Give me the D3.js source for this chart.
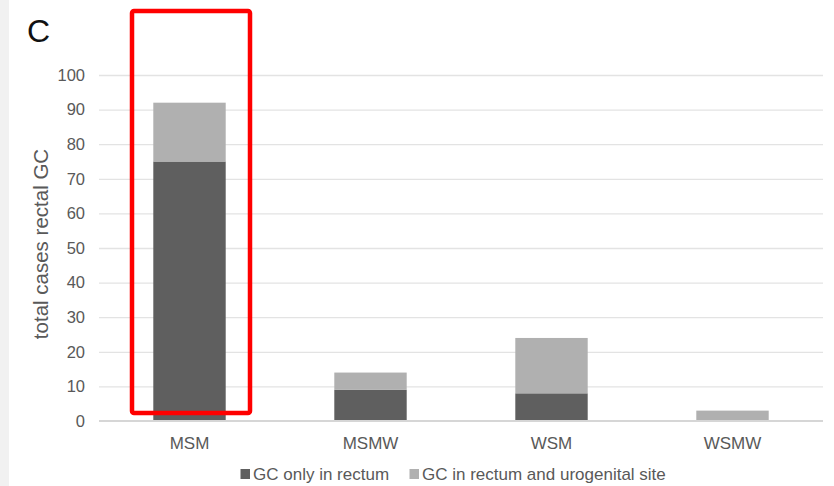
<!DOCTYPE html>
<html><head><meta charset="utf-8">
<script src="https://cdn.jsdelivr.net/npm/d3@7"></script>
<style>body{margin:0;background:#fff}svg{display:block}</style>
</head><body>
<svg id="c" width="834" height="486"></svg>
<script>
const categories = ["MSM", "MSMW", "WSM", "WSMW"];
const onlyRectum = [75, 9, 8, 0];
const rectumAndUrogenital = [17, 5, 16, 3];
const seriesNames = ["GC only in rectum", "GC in rectum and urogenital site"];
const seriesColors = ["#5f5f5f", "#b0b0b0"];
const yTicks = [0, 10, 20, 30, 40, 50, 60, 70, 80, 90, 100];

const svg = d3.select("#c");
const font = "'Liberation Sans', Arial, Helvetica, sans-serif";
const mLeft = 99, mRight = 823, mTop = 75, mBottom = 421;

svg.append("rect").attr("x", 0).attr("y", 0).attr("width", 9).attr("height", 486).attr("fill", "#f1f1f1");

const x = d3.scaleBand().domain(categories).range([mLeft, mRight]).paddingInner(0.6).paddingOuter(0.3);
const y = d3.scaleLinear().domain([0, 100]).range([mBottom, mTop]);

// gridlines
const grid = svg.append("g").attr("transform", `translate(${mLeft},0)`)
  .call(d3.axisLeft(y).tickValues(yTicks.slice(1)).tickSize(-(mRight - mLeft)).tickFormat(""));
grid.select(".domain").remove();
grid.selectAll("line").attr("stroke", "#e3e3e3").attr("stroke-width", 1.3);

// y tick labels
const ya = svg.append("g").attr("transform", `translate(${mLeft},0)`)
  .call(d3.axisLeft(y).tickValues(yTicks).tickSize(0).tickPadding(14));
ya.select(".domain").remove();
ya.selectAll("text").attr("font-family", font).attr("font-size", 16.5).attr("fill", "#595959");

// stacked bars
const rows = categories.map((c, i) => ({cat: c, a: onlyRectum[i], b: rectumAndUrogenital[i]}));
const stack = d3.stack().keys(["a", "b"])(rows);
svg.append("g").selectAll("g").data(stack).join("g")
  .attr("fill", (d, i) => seriesColors[i])
  .selectAll("rect").data(d => d).join("rect")
  .attr("x", d => x(d.data.cat))
  .attr("width", x.bandwidth())
  .attr("y", d => y(d[1]))
  .attr("height", d => y(d[0]) - y(d[1]));

// x axis
const xa = svg.append("g").attr("transform", `translate(0,${mBottom})`)
  .call(d3.axisBottom(x).tickSize(0).tickPadding(16));
xa.select(".domain").attr("stroke", "#d6d6d6").attr("stroke-width", 2).attr("d", `M${mLeft},0H${mRight}`);
xa.selectAll("text").attr("font-family", font).attr("font-size", 17).attr("fill", "#595959");

// y label
svg.append("text").attr("transform", "translate(48,244) rotate(-90)")
  .attr("text-anchor", "middle").attr("font-family", font).attr("font-size", 20.5).attr("fill", "#595959")
  .text("total cases rectal GC");

// panel letter
svg.append("text").attr("x", 27).attr("y", 42).attr("font-family", font).attr("font-size", 32).attr("fill", "#111").text("C");

// legend
const legX = [240, 409];
const lg = svg.append("g").selectAll("g").data(seriesNames).join("g")
  .attr("transform", (d, i) => `translate(${legX[i]},0)`);
lg.append("rect").attr("x", 0.5).attr("y", 469).attr("width", 9.5).attr("height", 10).attr("fill", (d, i) => seriesColors[i]);
lg.append("text").attr("x", 13).attr("y", 480).attr("font-family", font).attr("font-size", 17).attr("fill", "#595959").text(d => d);

// red highlight box
svg.append("rect").attr("x", 132).attr("y", 11).attr("width", 118).attr("height", 402)
  .attr("rx", 2).attr("fill", "none").attr("stroke", "#ff0000").attr("stroke-width", 4.5);
</script>
</body></html>
